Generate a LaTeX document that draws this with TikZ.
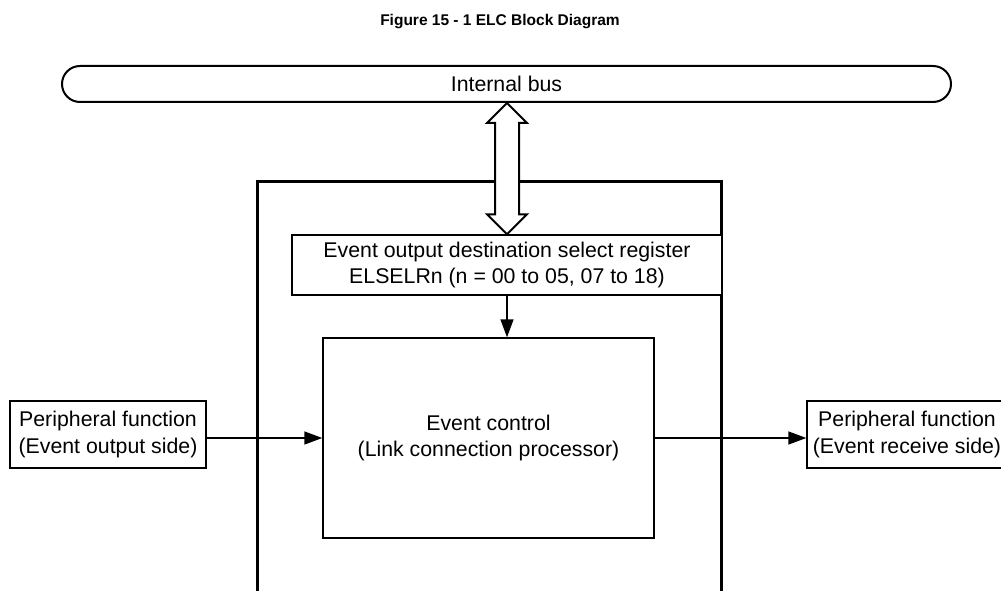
\documentclass[tikz,border=0pt]{standalone}
\usepackage{fontspec}
\setmainfont{Liberation Sans}
\usetikzlibrary{arrows.meta,calc}
\begin{document}
\begin{tikzpicture}[x=1pt,y=-1pt,
  thinbox/.style={draw=black,line width=1.4pt,fill=white,inner sep=0pt,align=center,
    font=\fontsize{21.3}{26.5}\selectfont},
  conn/.style={draw=black,line width=1.4pt,-{Triangle[length=18pt,width=13pt]}},
  busarrow/.style={draw=black,line width=2pt,fill=white,line join=miter},
  titlefont/.style={font=\fontsize{15.5}{18}\selectfont\bfseries}]
\useasboundingbox (0,0) rectangle (1001,591);
\clip (0,0) rectangle (1001,591);
% title
\node[titlefont] (title) at (500,22) {Figure 15 - 1 ELC Block Diagram};
% internal bus
\node[draw=black,line width=2pt,rounded corners=18pt,minimum width=889pt,minimum height=36pt,
  inner sep=0pt,font=\fontsize{21.3}{26.5}\selectfont] (bus) at (506.5,84) {Internal bus};
% outer ELC box (continues below the picture)
\node[draw=black,line width=3pt,minimum width=464pt,minimum height=440pt,inner sep=0pt]
  (elc) at (489,401) {};
% register box
\node[thinbox,minimum width=430pt,minimum height=60pt] (reg) at (507,265)
  {Event output destination select register\\ELSELRn (n = 00 to 05, 07 to 18)};
% event control
\node[thinbox,minimum width=331pt,minimum height=200pt] (ec) at (488.5,438)
  {Event control\\(Link connection processor)};
% peripheral functions
\node[thinbox,minimum width=196pt,minimum height=67pt] (pin) at (108,434.5)
  {Peripheral function\\(Event output side)};
\node[thinbox,minimum width=200pt,minimum height=67pt] (pout) at (907,434.5)
  {Peripheral function\\(Event receive side)};
% bidirectional bus arrow
\coordinate (dt) at (reg.north |- bus.south);
\coordinate (db) at (reg.north);
\draw[busarrow] (dt) -- ++(20,20) -- ++(-8,0) -- ($(db)+(12,-20)$) -- ++(8,0) -- (db)
  -- ++(-20,-20) -- ++(8,0) -- ($(dt)+(-12,20)$) -- ++(-8,0) -- cycle;
% connectors
\draw[conn] (reg.south) -- (reg.south |- ec.north);
\draw[conn] (ec.west -| pin.east) -- (ec.west);
\draw[conn] (ec.east) -- (ec.east -| pout.west);
\end{tikzpicture}
\end{document}
